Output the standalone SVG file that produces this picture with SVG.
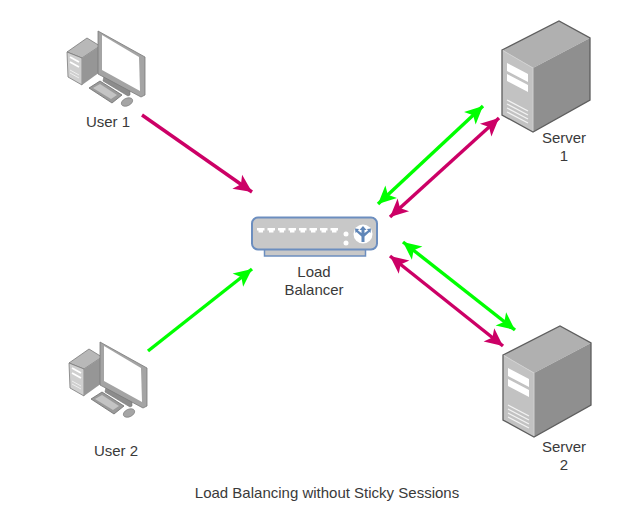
<svg xmlns="http://www.w3.org/2000/svg" width="638" height="520" viewBox="0 0 638 520">
<style>
text{font-family:"Liberation Sans",Arial,sans-serif;font-size:15px;fill:#3a3a3a;text-anchor:middle}
.pink{stroke:#cc0066;fill:none;stroke-width:3.4}
.green{stroke:#00ff00;fill:none;stroke-width:3.4}
</style>
<defs>
<marker id="hp" markerUnits="userSpaceOnUse" markerWidth="20" markerHeight="20" refX="19" refY="10" orient="auto-start-reverse"><path d="M1 1.500 L19 10 L1 18.500 L5.500 10Z" fill="#cc0066"/></marker>
<marker id="hg" markerUnits="userSpaceOnUse" markerWidth="20" markerHeight="20" refX="19" refY="10" orient="auto-start-reverse"><path d="M1 1.500 L19 10 L1 18.500 L5.500 10Z" fill="#00ff00"/></marker>
<g id="pc">
<path d="M67 52 L87 38 L100 46 L82 58Z" fill="#b8b8b8" stroke="#7a7a7a" stroke-width=".8"/>
<path d="M67 52 L82 58 L82 85 L68 77Z" fill="#cfcfcf" stroke="#7a7a7a" stroke-width=".8"/>
<path d="M82 58 L100 46 L100 72 L82 85Z" fill="#969696"/>
<path d="M70 57 L79 62 M70 62 L79 67" stroke="#fff" stroke-width="1.8"/>
<path d="M70 70 L79 75 M70 73 L79 78" stroke="#eee" stroke-width="1"/>
<path d="M104 76 L130 90 L130 95 L128 96 L103 81Z" fill="#8c8c8c" stroke="#777" stroke-width=".6"/>
<path d="M98 31 L145 57 L145 95 L141 97 L98 74Z" fill="#a4a4a4" stroke="#7a7a7a" stroke-width=".8"/>
<path d="M102 35 L139 57 L140 91 L102 70Z" fill="#fff"/>
<path d="M89 88 L100 81 L122 95 L112 103Z" fill="#9a9a9a" stroke="#6f6f6f" stroke-width=".8"/>
<path d="M93 88 L100 84 L117 95 L111 99Z" fill="#c4c4c4"/>
<ellipse cx="127" cy="102" rx="6" ry="3.800" transform="rotate(-25 127 102)" fill="#a5a5a5" stroke="#777" stroke-width=".6"/>
</g>
<g id="srv">
<path d="M502 50 L559 21 L590 38 L533 68Z" fill="#b0b0b0"/>
<path d="M533 68 L590 38 L590 100 L533 132Z" fill="#8f8f8f"/>
<path d="M502 50 L533 68 L533 132 L502 115Z" fill="#c2c2c2"/>
<path d="M502 50 L533 68 L533 132" fill="none" stroke="#d0d0d0" stroke-width="1"/>
<path d="M502 50 L559 21 L590 38 L590 100 L533 132 L502 115Z" fill="none" stroke="#5e5e5e" stroke-width="1.3"/>
<path d="M507 63 L528 74 L528 82 L507 71Z M507 74 L528 85 L528 92 L507 81Z" fill="#fff"/>
<path d="M507 100 L528 111 M507 104 L528 115 M507 108 L528 119 M507 112 L528 123" stroke="#f2f2f2" stroke-width="1.300"/>
</g>
</defs>
<g id="connectors">
<path class="pink" d="M142 115 L252 192" marker-end="url(#hp)"/>
<path class="green" d="M148 351 L252 269" marker-end="url(#hg)"/>
<path class="green" d="M378 204 L483 106" marker-start="url(#hg)" marker-end="url(#hg)"/>
<path class="pink" d="M390 217 L499 118" marker-start="url(#hp)" marker-end="url(#hp)"/>
<path class="green" d="M403 242 L515 330" marker-start="url(#hg)" marker-end="url(#hg)"/>
<path class="pink" d="M390 256 L503 346" marker-start="url(#hp)" marker-end="url(#hp)"/>
</g>
<g id="user1"><use href="#pc"/><text x="108" y="127">User 1</text></g>
<g id="user2"><use href="#pc" transform="translate(2 311)"/><text x="116" y="456">User 2</text></g>
<g id="load-balancer">
<rect x="264.500" y="249" width="101" height="7" fill="#c8c8c8" stroke="#6c8ebf" stroke-width="1.500"/>
<rect x="252" y="217.500" width="125" height="32" rx="6" fill="#c8c8c8" stroke="#6c8ebf" stroke-width="2"/>
<path id="ports" d="M257 228h7.500v2.500h-1.500v2h-4.500v-2h-1.500z M267.500 228h7.500v2.500h-1.500v2h-4.500v-2h-1.500z M278 228h7.500v2.500h-1.500v2h-4.500v-2h-1.500z M288.500 228h7.500v2.500h-1.500v2h-4.500v-2h-1.500z M299 228h7.500v2.500h-1.500v2h-4.500v-2h-1.500z M309.500 228h7.500v2.500h-1.500v2h-4.500v-2h-1.500z M320 228h7.500v2.500h-1.500v2h-4.500v-2h-1.500z M330.500 228h7.500v2.500h-1.500v2h-4.500v-2h-1.500z" fill="#fff"/>
<circle cx="346" cy="234" r="2.500" fill="#fff"/><circle cx="346" cy="243" r="2.500" fill="#fff"/>
<circle cx="363" cy="234" r="9.500" fill="#fff"/>
<path d="M363 226 L366.500 230 H364.500 V233 L368 230.500 L367 229 L371 228.500 L370.500 233 L369.500 232 L364.500 236.500 V242 H361.500 V236.500 L356.500 232 L355.500 233 L355 228.500 L359 229 L358 230.500 L361.500 233 V230 H359.500Z" fill="#5f86b8"/>
<text x="314" y="277">Load</text><text x="314" y="295">Balancer</text>
</g>
<g id="server1"><use href="#srv"/><text x="564" y="143">Server</text><text x="564" y="161">1</text></g>
<g id="server2"><use href="#srv" transform="translate(1 305)"/><text x="564" y="452">Server</text><text x="564" y="470">2</text></g>
<text id="caption" x="327" y="498">Load Balancing without Sticky Sessions</text>
</svg>
